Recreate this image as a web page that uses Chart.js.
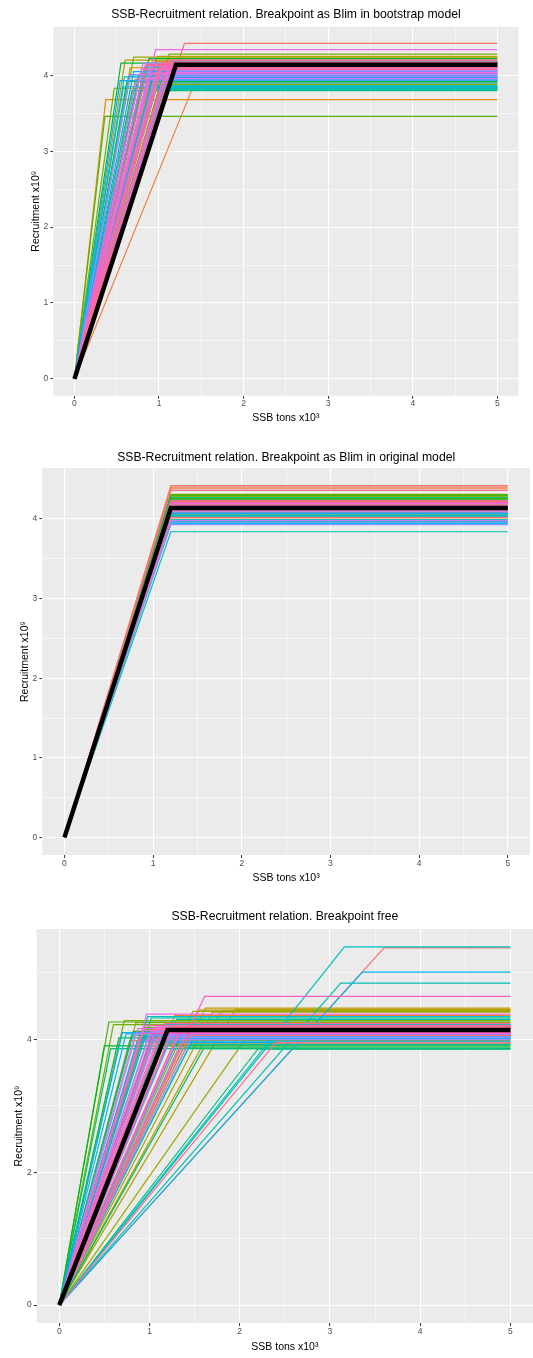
<!DOCTYPE html>
<html>
<head>
<meta charset="utf-8">
<script src="https://cdn.jsdelivr.net/npm/chart.js@4.4.1/dist/chart.umd.min.js"></script>
<style>
  body { margin: 0; background: #fff; }
  .panel { position: absolute; left: 0; width: 533px; }
</style>
</head>
<body>
<div class="panel" style="top:0;height:430px"><canvas id="bootChart"></canvas></div>
<div class="panel" style="top:440px;height:445px"><canvas id="origChart"></canvas></div>
<div class="panel" style="top:900px;height:458px"><canvas id="freeChart"></canvas></div>
<script>
// hockey-stick fits: breakpoint (SSB, tons x10^3) and plateau (recruitment x10^9)
const ssbEnd = 5;
const ssbTicks = [0, 1, 2, 3, 4, 5];
const recTicks = [0, 1, 2, 3, 4];
const recTicksFree = [0, 2, 4];

// black line = fit to the original data
const fitBreak = [1.2, 1.2, 1.2];
const fitRec = [4.14, 4.14, 4.14];

// 1) breakpoint as Blim in bootstrap model
const bootBreak = [1.30, 1.02, 0.88, 1.45, 0.95, 0.80, 0.37, 1.10, 0.72, 0.98,
  0.66, 1.08, 0.85, 0.60, 1.15, 0.78, 0.93, 1.05, 0.70, 0.90,
  1.12, 0.47, 0.82, 0.36, 1.00, 0.62, 0.88, 0.55, 1.06, 0.76,
  0.94, 1.14, 0.68, 0.85, 1.03, 0.74, 0.90, 1.09, 0.58, 0.96,
  0.80, 1.12, 0.64, 0.87, 1.00, 0.59, 0.78, 1.06, 0.54, 0.92,
  0.70, 1.16, 0.83, 0.97, 0.73, 0.89, 1.04, 0.66, 0.95, 1.11,
  0.81, 0.99, 0.86, 1.07, 0.93, 0.96, 1.13, 0.79, 1.01, 1.18,
  0.91, 1.09, 0.84, 1.05, 1.15, 0.98, 1.12, 0.87, 1.03, 1.17];
const bootRec = [4.42, 4.05, 3.92, 3.98, 4.18, 3.85, 3.68, 4.22, 3.95, 4.25,
  4.10, 3.90, 4.02, 4.20, 4.08, 3.82, 4.12, 3.96, 4.24, 3.88,
  4.28, 3.83, 4.06, 3.46, 4.15, 3.92, 4.22, 4.16, 3.84, 4.00,
  3.86, 4.18, 3.80, 4.10, 3.83, 3.84, 3.82, 3.81, 3.85, 3.83,
  3.90, 3.84, 3.99, 3.86, 3.95, 3.98, 4.03, 4.00, 3.93, 3.94,
  4.05, 3.97, 4.11, 4.02, 3.94, 4.07, 4.13, 4.01, 3.99, 4.06,
  4.16, 4.09, 3.96, 4.04, 4.12, 4.34, 4.19, 4.08, 4.10, 4.15,
  4.03, 4.11, 4.14, 4.17, 4.12, 4.08, 4.20, 4.13, 4.16, 4.10];

// 2) breakpoint as Blim in original model (fixed breakpoint)
const origBlim = 1.2;
const origRec = [4.42, 4.40, 4.38, 4.22, 4.10, 4.29, 4.18, 4.00, 4.25, 4.12,
  4.31, 4.06, 4.28, 4.26, 4.30, 4.24, 4.20, 4.27, 3.97, 4.08,
  4.04, 3.84, 4.05, 4.03, 4.04, 3.95, 4.11, 3.99, 3.94, 4.07,
  3.96, 3.93, 4.15, 3.98, 4.09, 4.19, 4.13, 4.21, 4.17, 4.16,
  4.20, 4.11, 4.23, 4.36, 4.02];

// 3) breakpoint free
const freeBreak = [3.60, 1.05, 0.92, 1.35, 0.78, 1.28, 1.12, 0.88, 1.42, 1.00,
  1.55, 0.96, 1.62, 1.80, 1.20, 1.95, 1.70, 2.05, 0.85, 1.48,
  1.10, 0.72, 0.60, 0.95, 1.25, 0.55, 0.82, 0.50, 1.15, 0.66,
  1.38, 0.90, 1.60, 0.57, 2.20, 1.02, 0.80, 1.30, 1.45, 2.55,
  3.12, 1.18, 3.16, 0.98, 1.50, 0.86, 1.22, 0.74, 1.08, 3.36,
  0.94, 1.32, 0.70, 1.16, 1.03, 0.89, 1.27, 0.99, 1.12, 0.84,
  1.40, 1.06, 0.93, 1.19, 1.52, 1.01, 0.87, 1.24, 1.09, 0.97,
  1.14, 1.36, 0.91, 1.21, 1.05, 1.61, 1.26, 1.11, 0.95, 1.33,
  1.17, 2.40, 1.07, 1.44, 1.23];
const freeRec = [5.375, 4.10, 4.02, 4.20, 3.98, 4.36, 4.06, 4.00, 4.12, 3.94,
  4.44, 4.15, 4.47, 4.43, 4.05, 4.45, 4.41, 3.98, 4.25, 4.42,
  3.92, 4.28, 4.22, 4.18, 4.08, 4.26, 4.12, 3.90, 4.00, 4.02,
  3.88, 4.10, 3.86, 3.86, 3.85, 4.32, 4.06, 4.30, 3.92, 4.30,
  4.845, 4.22, 5.39, 4.34, 4.05, 3.96, 4.15, 4.08, 4.12, 5.01,
  4.04, 4.01, 4.10, 3.95, 4.07, 3.99, 4.12, 4.06, 4.03, 4.09,
  4.10, 4.00, 4.13, 4.05, 4.18, 4.11, 4.16, 4.08, 4.20, 4.38,
  4.14, 4.17, 4.09, 4.12, 4.18, 4.645, 4.16, 4.10, 4.21, 4.13,
  4.24, 3.95, 4.15, 4.06, 4.19];

const FONT = "'Liberation Sans', Arial, sans-serif";

// ggplot2 default hue palette: hcl(h, c = 100, l = 65)
function hueColour(i, n) {
  const h = (15 + 360 * i / n) * Math.PI / 180;
  const L = 65, C = 100;
  const Xn = 95.047, Yn = 100, Zn = 108.883;
  const den = Xn + 15 * Yn + 3 * Zn;
  const un = 4 * Xn / den, vn = 9 * Yn / den;
  const Y = Yn * Math.pow((L + 16) / 116, 3);
  const up = C * Math.cos(h) / (13 * L) + un;
  const vp = C * Math.sin(h) / (13 * L) + vn;
  const X = Y * 9 * up / (4 * vp);
  const Z = Y * (12 - 3 * up - 20 * vp) / (4 * vp);
  const lin = [
    3.240479 * X - 1.537150 * Y - 0.498535 * Z,
    -0.969256 * X + 1.875992 * Y + 0.041556 * Z,
    0.055648 * X - 0.204043 * Y + 1.057311 * Z
  ].map(c => c / 100);
  const rgb = lin.map(c => {
    c = c <= 0.0031308 ? 12.92 * c : 1.055 * Math.pow(c, 1 / 2.4) - 0.055;
    return Math.round(255 * Math.min(1, Math.max(0, c)));
  });
  return 'rgb(' + rgb.join(',') + ')';
}

function stick(b, r) {
  return [{ x: 0, y: 0 }, { x: b, y: r }, { x: ssbEnd, y: r }];
}

function buildDatasets(breaks, recs, k) {
  const n = recs.length;
  // later groups go on top, like ggplot
  const sets = recs.map((r, i) => ({
    data: stick(breaks[i], r),
    borderColor: hueColour(i, n),
    borderWidth: 1.2,
    order: n - i
  }));
  sets.push({
    data: stick(fitBreak[k], fitRec[k]),
    borderColor: '#000000',
    borderWidth: 4.5,
    order: 0
  });
  return sets;
}

function withMinor(major) {
  const all = major.slice();
  for (let i = 0; i < major.length - 1; i++) all.push((major[i] + major[i + 1]) / 2);
  return all;
}

const panelBg = {
  id: 'panelBg',
  beforeDraw(chart) {
    const { ctx, chartArea: a } = chart;
    ctx.save();
    ctx.fillStyle = '#EBEBEB';
    ctx.fillRect(a.left, a.top, a.width, a.height);
    ctx.restore();
  }
};

function axisOpts(major, extraMinor, isMajor, pad) {
  return {
    afterBuildTicks: s => {
      const vals = withMinor(major).concat(extraMinor).filter(v => v >= s.min && v <= s.max);
      s.ticks = vals.sort((a, b) => a - b).map(v => ({ value: v }));
    },
    border: { display: false },
    grid: {
      color: '#FFFFFF',
      lineWidth: c => isMajor(c.tick.value) ? 1.1 : 0.55,
      tickLength: 3,
      tickColor: c => isMajor(c.tick.value) ? '#333333' : 'rgba(0,0,0,0)',
      tickWidth: 1
    },
    ticks: {
      autoSkip: false,
      maxRotation: 0,
      padding: pad,
      color: '#4D4D4D',
      font: { family: FONT, size: 8.5 },
      callback: v => isMajor(v) ? String(v) : ''
    }
  };
}

function makeChart(id, title, datasets, yMajor, yExtraMinor, yMax, L) {
  const yPad = yMax * 0.05;
  const xPad = ssbEnd * 0.05;
  const xAxis = axisOpts(ssbTicks, [], v => ssbTicks.includes(v), 0.3);
  const yAxis = axisOpts(yMajor, yExtraMinor, v => yMajor.includes(v), 2);
  new Chart(document.getElementById(id), {
    type: 'scatter',
    data: { datasets: datasets },
    options: {
      responsive: true,
      maintainAspectRatio: false,
      animation: false,
      showLine: true,
      elements: { point: { radius: 0, hoverRadius: 0 }, line: { tension: 0 } },
      layout: { padding: { left: 0, right: L.padRight, top: 0, bottom: 0 } },
      plugins: {
        legend: { display: false },
        tooltip: { enabled: false },
        title: {
          display: true,
          fullSize: false,
          text: title,
          color: '#000000',
          font: { family: FONT, size: 12.2, weight: 'normal' },
          padding: { top: L.titleTop, bottom: L.titleBottom }
        }
      },
      scales: {
        x: Object.assign(xAxis, {
          type: 'linear',
          min: -xPad,
          max: ssbEnd + xPad,
          afterFit: s => { s.height = L.xHeight; },
          title: {
            display: true,
            text: 'SSB tons x10³',
            color: '#000000',
            font: { family: FONT, size: 10.5 },
            padding: { top: 0, bottom: L.xTitlePad }
          }
        }),
        y: Object.assign(yAxis, {
          type: 'linear',
          min: -yPad,
          max: yMax + yPad,
          afterFit: s => { s.width = L.yWidth; },
          title: {
            display: true,
            text: 'Recruitment x10⁹',
            color: '#000000',
            font: { family: FONT, size: 10.5 },
            padding: { top: L.yTitlePad, bottom: 0 }
          }
        })
      }
    },
    plugins: [panelBg]
  });
}

makeChart('bootChart', 'SSB-Recruitment relation. Breakpoint as Blim in bootstrap model',
  buildDatasets(bootBreak, bootRec, 0), recTicks, [],
  Math.max(...bootRec),
  { padRight: 14.5, titleTop: 7.7, titleBottom: 4.36, xHeight: 34.3, xTitlePad: 5.2, yWidth: 53.3, yTitlePad: 29.7 });

makeChart('origChart', 'SSB-Recruitment relation. Breakpoint as Blim in original model',
  buildDatasets(origRec.map(() => origBlim), origRec, 1), recTicks, [],
  Math.max(...origRec),
  { padRight: 3, titleTop: 10.2, titleBottom: 3.16, xHeight: 30, xTitlePad: 0.4, yWidth: 42.3, yTitlePad: 18.7 });

makeChart('freeChart', 'SSB-Recruitment relation. Breakpoint free',
  buildDatasets(freeBreak, freeRec, 2), recTicksFree, [5],
  Math.max(...freeRec),
  { padRight: 0, titleTop: 9.4, titleBottom: 4.96, xHeight: 35, xTitlePad: 5.0, yWidth: 36.7, yTitlePad: 13.1 });
</script>
</body>
</html>
